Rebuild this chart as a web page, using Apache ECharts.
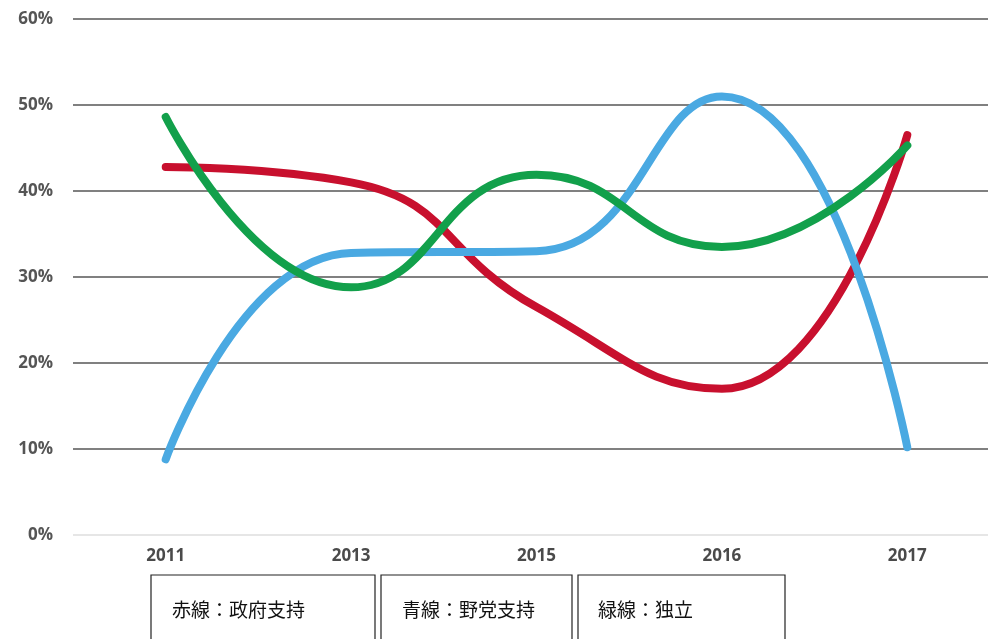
<!DOCTYPE html>
<html>
<head>
<meta charset="utf-8">
<script src="https://cdn.jsdelivr.net/npm/echarts@6/dist/echarts.min.js"></script>
<style>
  html, body { margin: 0; padding: 0; background: #fff; overflow: hidden; }
  /* the scanned plot runs slightly past the right edge of the picture */
  #chart { width: 1000px; height: 639px; }
</style>
</head>
<body>
<div id="chart"></div>
<script>
// data
const years = ['2011', '2013', '2015', '2016', '2017']
const govSupport = [42.8, 41.0, 26.5, 17.0, 46.5]   // red
const oppSupport = [8.8, 32.8, 33.0, 51.0, 10.2]    // blue
const independence = [48.6, 28.8, 41.9, 33.5, 45.3] // green
const legendLabels = ['赤線：政府支持', '青線：野党支持', '緑線：独立']

const colors = ['#c8102e', '#4aa9e2', '#12a04b']

// legend boxes drawn as plain graphics under the axis
const boxes = [
  { x: 151, w: 224, tx: 172 },
  { x: 381, w: 191, tx: 402 },
  { x: 578, w: 207, tx: 598 }
]

const chart = echarts.init(document.getElementById('chart'))

chart.setOption({
  animation: false,
  grid: { left: 73, right: 0, top: 19, bottom: 104 },
  xAxis: {
    type: 'category',
    data: years,
    boundaryGap: true,
    axisLine: { show: false },
    axisTick: { show: false },
    axisLabel: {
      margin: 13,
      color: '#4a4a4a',
      fontWeight: 'bold',
      fontSize: 17,
      fontFamily: 'Open Sans'
    }
  },
  yAxis: {
    type: 'value',
    min: 0,
    max: 60,
    interval: 10,
    axisLabel: {
      formatter: '{value}%',
      margin: 20,
      color: '#555',
      fontWeight: 'bold',
      fontSize: 17,
      fontFamily: 'Open Sans'
    },
    splitLine: {
      lineStyle: {
        color: ['#e6e6e6', '#808080', '#808080', '#808080', '#808080', '#808080', '#808080'],
        width: 2
      }
    }
  },
  series: [
    { name: legendLabels[0], type: 'line', data: govSupport },
    { name: legendLabels[1], type: 'line', data: oppSupport },
    { name: legendLabels[2], type: 'line', data: independence }
  ].map((s, i) => ({
    ...s,
    smooth: true,
    symbol: 'none',
    lineStyle: { color: colors[i], width: 8, cap: 'round' }
  })),
  graphic: boxes.map((b, i) => ({
    type: 'group',
    children: [
      {
        type: 'rect',
        shape: { x: b.x, y: 575, width: b.w, height: 80 },
        style: { fill: '#fff', stroke: '#222', lineWidth: 1.2 }
      },
      {
        type: 'text',
        x: b.tx,
        y: 610,
        style: {
          text: legendLabels[i],
          fill: '#111',
          fontSize: 19,
          fontFamily: 'Noto Sans CJK JP',
          verticalAlign: 'middle'
        }
      }
    ]
  }))
})
</script>
</body>
</html>
